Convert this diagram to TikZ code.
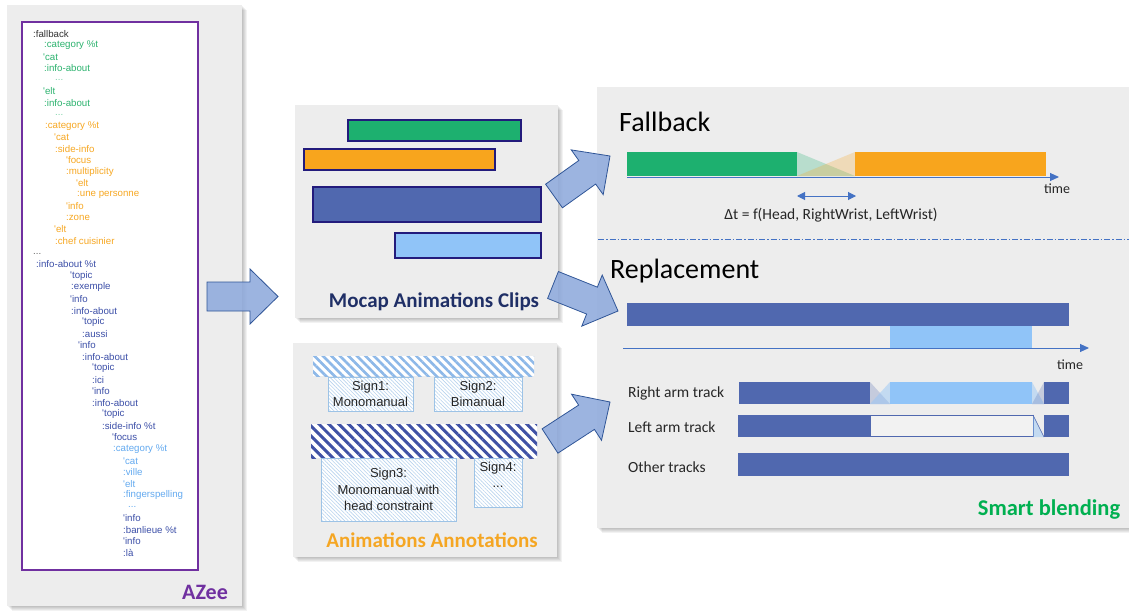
\documentclass[tikz,border=0pt]{standalone}
\usepackage{fontspec}
\setmainfont{Carlito}
\newfontfamily\arialf{Liberation Sans}
\usetikzlibrary{calc,patterns,patterns.meta,arrows.meta}
\definecolor{panelgray}{HTML}{EDEDED}
\definecolor{azpurple}{HTML}{7030A0}
\definecolor{tgrn}{HTML}{2DB36F}
\definecolor{tgrnl}{HTML}{7FD3A8}
\definecolor{torg}{HTML}{F7A823}
\definecolor{tdbl}{HTML}{3C4FA8}
\definecolor{tlbl}{HTML}{64AAF0}
\definecolor{tgry}{HTML}{666666}
\definecolor{tblk}{HTML}{333333}
\definecolor{clipgreen}{HTML}{1DB06F}
\definecolor{cliporange}{HTML}{F8A51D}
\definecolor{clipdark}{HTML}{5068AF}
\definecolor{cliplight}{HTML}{90C4F8}
\definecolor{clipborder}{HTML}{231B7C}
\definecolor{navytext}{HTML}{1F2F66}
\definecolor{annorange}{HTML}{F5A623}
\definecolor{smartgreen}{HTML}{00B050}
\definecolor{axisblue}{HTML}{4472C4}
\definecolor{arrfill}{HTML}{8FAADC}
\definecolor{arrdraw}{HTML}{2F5597}
\definecolor{stripelight}{HTML}{8DB8E8}
\definecolor{stripedark}{HTML}{3F51A5}
\definecolor{signhatch}{HTML}{B8D3EE}
\definecolor{signborder}{HTML}{9DC3E6}
\newcommand{\azdots}{...}
\tikzset{
  panel/.style={fill=panelgray},
  azline/.style={anchor=west, inner sep=0pt, font=\arialf\fontsize{9.7}{11}\selectfont},
  clip bar/.style={draw=clipborder, line width=1.8pt},
  signbox/.style={draw=signborder, line width=0.8pt, pattern={Lines[angle=-45,distance=2.6pt,line width=0.6pt]}, pattern color=signhatch, align=center, inner sep=0pt, font=\arialf\fontsize{13}{16.5}\selectfont, text=black!85},
  bigarrow/.style={fill=arrfill, fill opacity=0.88, draw=arrdraw, line width=0.8pt, line join=miter},
  axis/.style={draw=axisblue, line width=1pt, -{Triangle[length=9pt,width=8pt]}},
  tracklabel/.style={anchor=west, inner sep=0pt, font=\fontsize{15.5}{18}\selectfont, text=black!85},
}
\newcommand{\panelshadow}[4]{%
  \foreach \k in {1,2,3,4,5}{\fill[black, opacity=0.05] (#1+\k,#2+\k) rectangle (#3+\k,#4+\k);}
}
\newcommand{\blockarrow}[2]{%
  \coordinate (hb) at ($(#2)!28pt!(#1)$);
  \draw[bigarrow] ($(#1)!14.5pt!90:(#2)$) -- ($(hb)!14.5pt!-90:(#1)$) -- ($(hb)!27.5pt!-90:(#1)$) -- (#2) -- ($(hb)!27.5pt!90:(#1)$) -- ($(hb)!14.5pt!90:(#1)$) -- ($(#1)!14.5pt!-90:(#2)$) -- cycle;
}
\begin{document}
\begin{tikzpicture}[x=1pt,y=-1pt]
\useasboundingbox (0,0) rectangle (1129,610);
\fill[white] (0,0) rectangle (1129,610);

% ---------------- AZee panel ----------------
\panelshadow{7}{5}{242}{606}
\fill[panel] (7,5) rectangle (242,606);
\draw[azpurple, line width=2pt, fill=white] (22,22) rectangle (198,570);
\foreach \x/\y/\c/\t [count=\i] in {
33/34/tblk/:fallback,
44/45/tgrn/:category \%t,
43/57/tgrn/'cat,
44/68/tgrn/:info-about,
55/80/tgrnl/\azdots,
43/91/tgrn/'elt,
44/103/tgrn/:info-about,
55/115/tgrnl/\azdots,
45/126/torg/:category \%t,
54/137/torg/'cat,
55/149/torg/:side-info,
66/160/torg/'focus,
66/172/torg/:multiplicity,
76/183/torg/'elt,
77/195/torg/:une personne,
66/206/torg/'info,
66/218/torg/:zone,
54/229/torg/'elt,
55/241/torg/:chef cuisinier,
33/254/tgry/\azdots,
36/264/tdbl/:info-about \%t,
70/276/tdbl/'topic,
71/287/tdbl/:exemple,
70/299/tdbl/'info,
71/311/tdbl/:info-about,
82/322/tdbl/'topic,
82/334/tdbl/:aussi,
78/345/tdbl/'info,
82/357/tdbl/:info-about,
92/368/tdbl/'topic,
92/380/tdbl/:ici,
92/391/tdbl/'info,
92/403/tdbl/:info-about,
102/414/tdbl/'topic,
102/426/tdbl/:side-info \%t,
112/437/tdbl/'focus,
113/449/tlbl/:category \%t,
123/461/tlbl/'cat,
123/472/tlbl/:ville,
123/484/tlbl/'elt,
123/495/tlbl/:fingerspelling,
128/507/tlbl/\azdots,
123/518/tdbl/'info,
123/530/tdbl/:banlieue \%t,
123/541/tdbl/'info,
123/553/tdbl/:là}
{\node[azline, text=\c] (az\i) at (\x,\y) {\t};}
\node[font=\bfseries\fontsize{22}{26}\selectfont, text=azpurple] (azee) at (205,592) {AZee};

% ---------------- Mocap panel ----------------
\panelshadow{295}{105}{558}{318}
\fill[panel] (295,105) rectangle (558,318);
\draw[clip bar, fill=clipgreen] (348,120) rectangle (521,141);
\draw[clip bar, fill=cliporange] (304,149) rectangle (495,170);
\draw[clip bar, fill=clipdark] (313,187) rectangle (541,222);
\draw[clip bar, fill=cliplight] (395,233) rectangle (541,258);
\node[font=\bfseries\fontsize{21}{25}\selectfont, text=navytext] (mocap) at (434,302) {Mocap Animations Clips};

% ---------------- Annotations panel ----------------
\panelshadow{293}{343}{557}{557}
\fill[panel] (293,343) rectangle (557,557);
\fill[white] (313,356) rectangle (534,376);
\fill[pattern={Lines[angle=-45,distance=6pt,line width=2.6pt]}, pattern color=stripelight] (313,356) rectangle (534,376);
\fill[white] (311,424) rectangle (537,458);
\fill[pattern={Lines[angle=-45,distance=7pt,line width=3pt]}, pattern color=stripedark] (311,424) rectangle (537,458);
\fill[white] (328,377) rectangle (413,411);
\node[signbox, minimum width=85pt, minimum height=34pt] (s1) at (370.5,394) {Sign1:\\Monomanual};
\fill[white] (434,377) rectangle (522,411);
\node[signbox, minimum width=88pt, minimum height=34pt] (s2) at (478,394) {Sign2:\\Bimanual};
\fill[white] (321,458) rectangle (456,521);
\node[signbox, minimum width=135pt, minimum height=63pt] (s3) at (388.5,489.5) {Sign3:\\Monomanual with\\head constraint};
\fill[white] (474,458) rectangle (522,507);
\node[signbox, minimum width=48pt, minimum height=49pt, anchor=north] (s4) at (498,458) {};
\node[align=center, inner sep=0pt, font=\arialf\fontsize{13}{16.5}\selectfont, text=black!85] (s4t) at (498,475) {Sign4:\\...};
\node[font=\bfseries\fontsize{21}{25}\selectfont, text=annorange] (annot) at (432,540) {Animations Annotations};

% ---------------- Right panel ----------------
\foreach \k in {1,2,3,4,5}{\fill[black, opacity=0.05] (597+\k,87+\k) rectangle (1129,528+\k);}
\fill[panel] (597,87) rectangle (1129,528);
\node[anchor=base west, inner sep=0pt, font=\fontsize{28}{32}\selectfont] (fallback) at (619,131) {Fallback};
\fill[clipgreen] (627,152) rectangle (797,176);
\fill[cliporange] (855,152) rectangle (1046,176);
\fill[clipgreen, opacity=0.25] (797,152) -- (797,176) -- (855,176) -- cycle;
\fill[cliporange, opacity=0.25] (855,152) -- (855,176) -- (797,176) -- cycle;
\coordinate (fa0) at (627,177);
\coordinate (fa1) at (1059,177);
\draw[axis] (fa0) -- (fa1);
\node[font=\fontsize{14}{16}\selectfont, text=black!85] (time1) at (1057,189) {time};
\coordinate (dt0) at (797,196);
\coordinate (dt1) at (856,196);
\draw[draw=axisblue, line width=1pt, {Triangle[length=8pt,width=8pt]}-{Triangle[length=8pt,width=8pt]}] (dt0) -- (dt1);
\node[font=\fontsize{15.5}{18}\selectfont, text=black!85] (dt) at (831,215) {Δt = f(Head, RightWrist, LeftWrist)};
\coordinate (sep0) at (598,239);
\coordinate (sep1) at (1129,239);
\draw[axisblue, line width=0.7pt, dash pattern=on 6pt off 2pt on 1.5pt off 2pt] (sep0) -- (sep1);

\node[anchor=west, inner sep=0pt, font=\fontsize{28}{32}\selectfont] (replacement) at (610,271) {Replacement};
\fill[clipdark] (627,303) rectangle (1069,326);
\fill[cliplight] (890,326) rectangle (1032,348);
\coordinate (ra0) at (623,348);
\coordinate (ra1) at (1089,348);
\draw[axis] (ra0) -- (ra1);
\node[font=\fontsize{14}{16}\selectfont, text=black!85] (time2) at (1070,365) {time};

\node[tracklabel] (rlab) at (628,393) {Right arm track};
\fill[clipdark] (739,382) rectangle (870,404);
\fill[cliplight] (890,382) rectangle (1032,404);
\fill[clipdark] (1044,382) rectangle (1069,404);
\fill[clipdark, opacity=0.25] (870,382) -- (870,404) -- (890,404) -- cycle;
\fill[cliplight, opacity=0.45] (890,382) -- (890,404) -- (870,404) -- cycle;
\fill[cliplight, opacity=0.45] (1032,382) -- (1032,404) -- (1044,404) -- cycle;
\fill[clipdark, opacity=0.25] (1044,382) -- (1044,404) -- (1032,404) -- cycle;

\node[tracklabel] (llab) at (628,427) {Left arm track};
\fill[clipdark] (738,415) rectangle (870,437);
\draw[clipdark, line width=0.8pt, fill=black!5] (870,415.4) rectangle (1033,436.6);
\fill[cliplight, opacity=0.45] (1033,415) -- (1033,437) -- (1044,437) -- cycle;
\draw[clipdark, line width=0.6pt] (1033,415) -- (1044,437);
\fill[clipdark] (1044,415) rectangle (1069,437);

\node[tracklabel] (olab) at (628,467) {Other tracks};
\fill[clipdark] (738,453) rectangle (1069,476);

\node[font=\bfseries\fontsize{22.5}{26}\selectfont, text=smartgreen] (smart) at (1049,510) {Smart blending};

% ---------------- block arrows ----------------
\coordinate (a1t) at (207,296.5);
\coordinate (a1h) at (278,296.5);
\blockarrow{a1t}{a1h}
\coordinate (a2t) at (554,196);
\coordinate (a2h) at (610,156);
\blockarrow{a2t}{a2h}
\coordinate (a3t) at (553,285);
\coordinate (a3h) at (618,311);
\blockarrow{a3t}{a3h}
\coordinate (a4t) at (550,441);
\coordinate (a4h) at (610,402);
\blockarrow{a4t}{a4h}
\end{tikzpicture}
\end{document}
